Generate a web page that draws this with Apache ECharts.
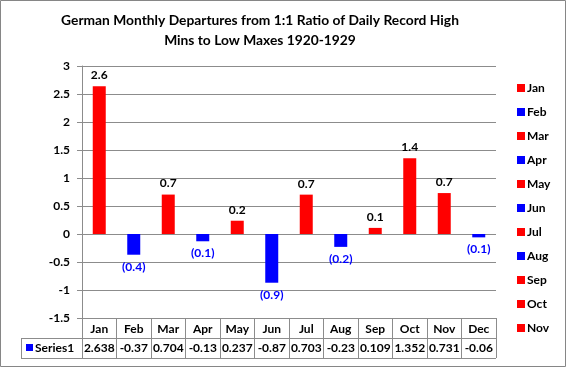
<!DOCTYPE html>
<html><head><meta charset="utf-8">
<script src="https://cdn.jsdelivr.net/npm/echarts@6/dist/echarts.min.js"></script>
<style>html,body{margin:0;padding:0;background:#fff}#c{width:566px;height:367px}</style>
</head><body><div id="c"></div>
<script>
var months = ['Jan','Feb','Mar','Apr','May','Jun','Jul','Aug','Sep','Oct','Nov','Dec'];
var values = [2.638, -0.37, 0.704, -0.13, 0.237, -0.87, 0.703, -0.23, 0.109, 1.352, 0.731, -0.06];
var tableText = ['2.638','-0.37','0.704','-0.13','0.237','-0.87','0.703','-0.23','0.109','1.352','0.731','-0.06'];
var legendShown = ['Jan','Feb','Mar','Apr','May','Jun','Jul','Aug','Sep','Oct','Nov'];
var seriesName = 'Series1';

var FONT = 'Lato';
var RED = '#FF0000', BLUE = '#0000FF', GRID = '#8C8C8C';

var series = months.map(function (m, i) {
  var v = values[i];
  var neg = v < 0;
  return {
    name: m, type: 'bar', barWidth: 13, barGap: '-100%',
    itemStyle: { color: neg ? BLUE : RED },
    label: {
      show: true, position: neg ? 'bottom' : 'top', distance: neg ? 6 : 5,
      fontFamily: FONT, fontWeight: 'bold', fontSize: 12,
      color: neg ? BLUE : '#000',
      formatter: function (p) {
        var a = Math.abs(p.value).toFixed(1);
        return p.value < 0 ? '(' + a + ')' : a;
      }
    },
    data: months.map(function (_, j) { return j === i ? v : '-'; })
  };
});

var chart = echarts.init(document.getElementById('c'));
chart.setOption({
  animation: false,
  title: {
    text: 'German Monthly Departures from 1:1 Ratio of Daily Record High\nMins to Low Maxes 1920-1929',
    left: 260, textAlign: 'center', top: 11, padding: 0,
    textStyle: { fontFamily: FONT, fontWeight: 'bold', fontSize: 13.8, lineHeight: 20, color: '#000' }
  },
  legend: {
    orient: 'vertical', left: 512, top: 77, itemWidth: 8, itemHeight: 8, itemGap: 12,
    icon: 'rect', data: legendShown,
    textStyle: { fontFamily: FONT, fontWeight: 'bold', fontSize: 12, color: '#000', padding: [0, 0, 0, -3] }
  },
  grid: { left: 82, right: 70, top: 66, bottom: 49, containLabel: false },
  xAxis: [{
    type: 'category', data: months, position: 'bottom',
    axisLine: { onZero: false, lineStyle: { color: GRID } },
    axisTick: { show: true, length: 40, lineStyle: { color: GRID } },
    axisLabel: { interval: 0, fontFamily: FONT, fontWeight: 'bold', fontSize: 12, color: '#000', margin: 5 },
    splitLine: { show: false }
  }, {
    type: 'category', data: tableText, position: 'bottom', offset: 20,
    axisLine: { show: true, onZero: false, lineStyle: { color: GRID } },
    axisTick: { show: false },
    axisLabel: { interval: 0, fontFamily: FONT, fontWeight: 'bold', fontSize: 12, color: '#000', margin: 4 }
  }],
  yAxis: {
    type: 'value', min: -1.5, max: 3, interval: 0.5,
    axisLine: { show: true, lineStyle: { color: GRID } },
    axisTick: { show: true, length: 5, lineStyle: { color: GRID } },
    axisLabel: { fontFamily: FONT, fontWeight: 'bold', fontSize: 12, color: '#000', margin: 12 },
    splitLine: { lineStyle: { color: GRID } }
  },
  graphic: [
    { type: 'rect', shape: { x: 0.5, y: 0.5, width: 565, height: 366 }, style: { fill: null, stroke: '#868686', lineWidth: 1 }, silent: true },
    { type: 'line', shape: { x1: 21, y1: 338.5, x2: 82, y2: 338.5 }, style: { stroke: GRID, lineWidth: 1 } },
    { type: 'line', shape: { x1: 21, y1: 358.5, x2: 496, y2: 358.5 }, style: { stroke: GRID, lineWidth: 1 } },
    { type: 'line', shape: { x1: 21.5, y1: 338, x2: 21.5, y2: 359 }, style: { stroke: GRID, lineWidth: 1 } },
    { type: 'rect', shape: { x: 26, y: 344, width: 7, height: 7 }, style: { fill: BLUE } },
    { type: 'text', x: 35, y: 348, style: { text: seriesName, font: 'bold 12px ' + FONT, fill: '#000', verticalAlign: 'middle' } }
  ],
  series: series
});
</script></body></html>
